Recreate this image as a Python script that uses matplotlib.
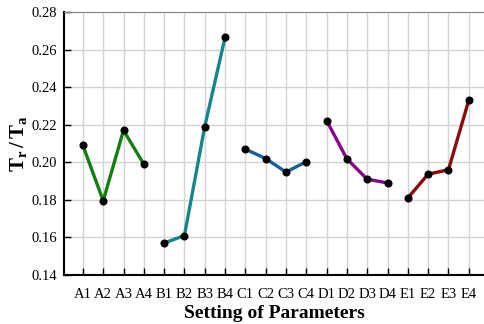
import matplotlib
matplotlib.use("Agg")
import matplotlib.pyplot as plt

categories = ["A1","A2","A3","A4","B1","B2","B3","B4","C1","C2","C3","C4",
              "D1","D2","D3","D4","E1","E2","E3","E4"]
A = [0.209, 0.1795, 0.217, 0.199]
B = [0.157, 0.161, 0.219, 0.2665]
C = [0.207, 0.202, 0.1948, 0.2003]
D = [0.2222, 0.2018, 0.191, 0.189]
E = [0.181, 0.1937, 0.196, 0.233]
groups = [A, B, C, D, E]
colors = ["#137f13", "#14868a", "#1a5e96", "#820a88", "#8b0b0b"]
yticks = [0.14, 0.16, 0.18, 0.20, 0.22, 0.24, 0.26, 0.28]

plt.rcParams['font.family'] = ['Liberation Serif', 'DejaVu Serif']
plt.rcParams['mathtext.fontset'] = 'custom'
plt.rcParams['mathtext.rm'] = 'Liberation Serif'
plt.rcParams['mathtext.bf'] = 'Liberation Serif:bold'

fig = plt.figure(figsize=(4.85, 3.24), dpi=100)
ax = fig.add_axes([64/485, 1-275/324, (485-64)/485, (275-12)/324])

for i, (vals, c) in enumerate(zip(groups, colors)):
    xs = list(range(i*4, i*4+4))
    ax.plot(xs, vals, color=c, lw=2.4, zorder=2)
    ax.plot(xs, vals, 'o', color='black', ms=4.8, zorder=3)

ax.set_xlim(-0.93, 19.8)
ax.set_ylim(0.14, 0.28)
ax.set_xticks(range(len(categories)))
ax.set_xticklabels(categories, fontsize=10.5)
ax.set_yticks(yticks)
ax.set_yticklabels([f"{v:.2f}" for v in yticks], fontsize=10.5)
ax.grid(True, color='#d3d3d3', lw=1.0, zorder=0)
ax.set_axisbelow(True)
ax.tick_params(direction='in', length=5, width=1)
ax.tick_params(axis='y', pad=5)
ax.tick_params(axis='x', pad=9)
for s in ['left', 'bottom']:
    ax.spines[s].set_linewidth(1.5)
ax.spines['top'].set_color('#888888')
ax.spines['right'].set_visible(False)
ax.set_xlabel("Setting of Parameters", fontsize=14, fontweight='bold', labelpad=3)
ax.set_ylabel(r"$\mathbf{T_r\,/\,T_a}$", fontsize=15, labelpad=2)

fig.savefig("out.png", dpi=100)
